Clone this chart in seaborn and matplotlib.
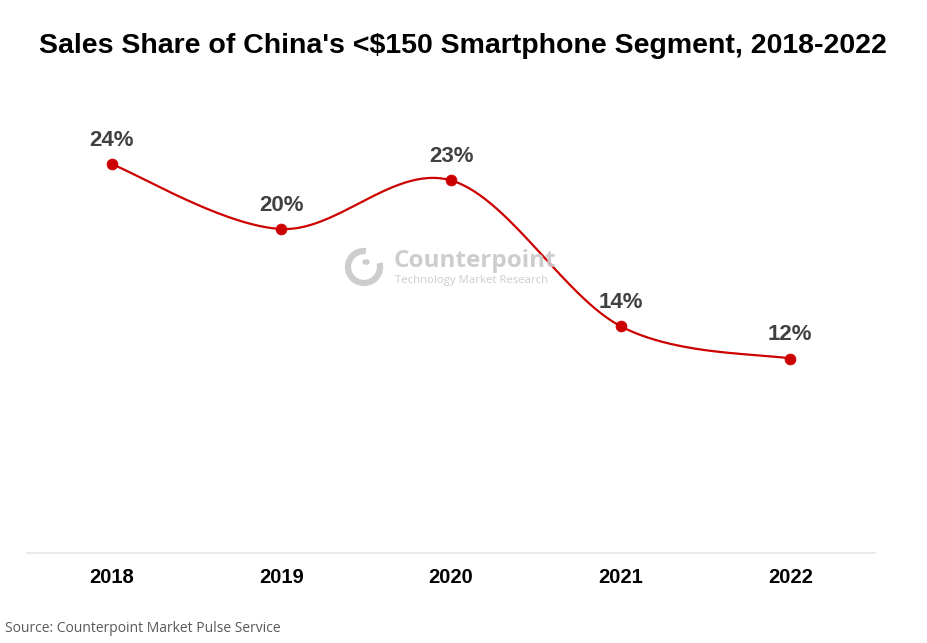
import numpy as np
import pandas as pd
import matplotlib
matplotlib.use("Agg")
import matplotlib.pyplot as plt
import seaborn as sns
from matplotlib.patches import Arc, Circle

years = ["2018", "2019", "2020", "2021", "2022"]
share = [24, 20, 23, 14, 12]
labels = ["24%", "20%", "23%", "14%", "12%"]
title = "Sales Share of China's <$150 Smartphone Segment, 2018-2022"
source = "Source: Counterpoint Market Pulse Service"

sns.set_theme(style="white")
plt.rcParams["font.family"] = ["Liberation Sans", "DejaVu Sans"]

fig = plt.figure(figsize=(9.27, 6.43), dpi=100)
ax = fig.add_axes([27 / 927, 1 - 553 / 643, 848 / 927, 486 / 643])

# smooth (Excel-like) curve through the points
x = np.arange(len(share), dtype=float)
y = np.array(share, dtype=float)
px = np.concatenate([[x[0]], x, [x[-1]]])
py = np.concatenate([[y[0]], y, [y[-1]]])
cx, cy = [], []
t = np.linspace(0, 1, 60)
for i in range(len(x) - 1):
    p0 = np.array([px[i + 1], py[i + 1]])
    p3 = np.array([px[i + 2], py[i + 2]])
    p1 = p0 + (np.array([px[i + 2], py[i + 2]]) - np.array([px[i], py[i]])) / 6
    p2 = p3 - (np.array([px[i + 3], py[i + 3]]) - np.array([px[i + 1], py[i + 1]])) / 6
    b = ((1 - t) ** 3)[:, None] * p0 + (3 * (1 - t) ** 2 * t)[:, None] * p1 \
        + (3 * (1 - t) * t ** 2)[:, None] * p2 + (t ** 3)[:, None] * p3
    cx.extend(b[:, 0]); cy.extend(b[:, 1])
curve = pd.DataFrame({"x": cx, "y": cy})
pts = pd.DataFrame({"x": x, "y": y})

red = "#CC0000"
sns.lineplot(data=curve, x="x", y="y", ax=ax, color=red, linewidth=1.6, sort=False)
sns.scatterplot(data=pts, x="x", y="y", ax=ax, color=red, s=60, edgecolor=red, zorder=5)

for xi, yi, lab in zip(x, y, labels):
    ax.annotate(lab, (xi, yi), xytext=(0, 17), textcoords="offset points",
                ha="center", va="center", fontsize=16, fontweight="bold", color="#404040")

ax.set_xlim(-0.5, 4.5)
ax.set_ylim(0, 30)
ax.set_xticks(x)
ax.set_xticklabels(years, fontsize=14.5, fontweight="bold", color="#000000")
ax.set_yticks([])
ax.set_xlabel("")
ax.set_ylabel("")
ax.tick_params(axis="x", length=0, pad=11)
for s in ["top", "right", "left"]:
    ax.spines[s].set_visible(False)
ax.spines["bottom"].set_color("#E6E6E6")
ax.spines["bottom"].set_linewidth(1.2)

fig.text(463 / 927, 1 - 46 / 643, title, ha="center", va="center",
         fontsize=20.5, fontweight="bold", color="#000000")
fig.text(5 / 927, 1 - 629 / 643, source, ha="left", va="center",
         fontsize=10, color="#595959", family=["Open Sans", "DejaVu Sans"])

# watermark
wm = "#C8C8C8"
fig.patches.append(Arc((364 / 927, 1 - 267 / 643), 32 / 927, 32 / 643, theta1=85, theta2=20,
                       transform=fig.transFigure, color=wm, linewidth=4.5, alpha=0.9))
fig.patches.append(Circle((366 / 927, 1 - 262 / 643), 3 / 927, transform=fig.transFigure,
                          color=wm, alpha=0.9))
fig.text(394 / 927, 1 - 261 / 643, "Counterpoint", ha="left", va="center", fontsize=17.5,
         fontweight="bold", color=wm, family=["Open Sans", "DejaVu Sans"], alpha=0.9)
fig.text(395 / 927, 1 - 281 / 643, "Technology Market Research", ha="left", va="center",
         fontsize=8.2, color=wm, family=["Open Sans", "DejaVu Sans"], alpha=0.9)

fig.savefig("out.png", dpi=100, facecolor="white")
